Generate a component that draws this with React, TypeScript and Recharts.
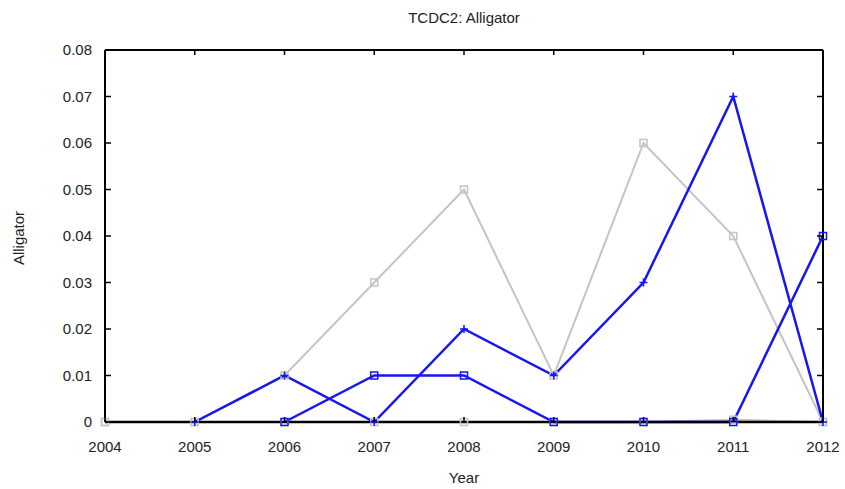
import * as React from 'react';
import { LineChart, Line, XAxis, YAxis, ReferenceLine } from 'recharts';

const years = [2004, 2005, 2006, 2007, 2008, 2009, 2010, 2011, 2012];
const grayUpper = [0, 0, 0.01, 0.03, 0.05, 0.01, 0.06, 0.04, 0];
const grayZero = [0, 0, 0, 0, 0, 0, 0, 0.0005, 0];
const bluePlus = [null, 0, 0.01, 0, 0.02, 0.01, 0.03, 0.07, 0];
const blueSquare = [null, null, 0, 0.01, 0.01, 0, 0, 0, 0.04];
const yTicks = [0, 0.01, 0.02, 0.03, 0.04, 0.05, 0.06, 0.07, 0.08];

const data = years.map((year, i) => ({
  year,
  grayUpper: grayUpper[i],
  grayZero: grayZero[i],
  bluePlus: bluePlus[i],
  blueSquare: blueSquare[i],
}));

const W = 845;
const H = 489;
const PLOT_LEFT = 105;
const PLOT_RIGHT = 823;
const PLOT_TOP = 50;
const PLOT_BOTTOM = 422;
const BLUE = '#1515f5';
const GRAY = '#c4c4c4';
const FONT = '"Liberation Sans", Arial, sans-serif';

const SquareDot = (color: string) => (props: any) => {
  const { cx, cy, index } = props;
  if (cx == null || cy == null || props.value == null) return <g key={index} />;
  return <rect key={index} x={cx - 3.5} y={cy - 3.5} width={7} height={7} fill="none" stroke={color} strokeWidth={1.5} />;
};

const PlusDot = (props: any) => {
  const { cx, cy, index } = props;
  if (cx == null || cy == null || props.value == null) return <g key={index} />;
  return (
    <g key={index}>
      <line x1={cx - 4} x2={cx + 4} y1={cy} y2={cy} stroke={BLUE} strokeWidth={1.5} />
      <line x1={cx} x2={cx} y1={cy - 4} y2={cy + 4} stroke={BLUE} strokeWidth={1.5} />
    </g>
  );
};

const YTick = (props: any) => {
  const { y, payload } = props;
  return (
    <g>
      <text x={92} y={y} dy="0.35em" textAnchor="end" fontSize={15} fill="#222" fontFamily={FONT}>
        {payload.value === 0 ? '0' : payload.value.toFixed(2)}
      </text>
      <line x1={PLOT_LEFT} x2={PLOT_LEFT + 6} y1={y} y2={y} stroke="#000" strokeWidth={1.5} />
      <line x1={PLOT_RIGHT - 6} x2={PLOT_RIGHT} y1={y} y2={y} stroke="#000" strokeWidth={1.5} />
    </g>
  );
};

const XTick = (props: any) => {
  const { x, payload } = props;
  return (
    <g>
      <text x={x} y={447} dy="0.35em" textAnchor="middle" fontSize={15} fill="#222" fontFamily={FONT}>
        {payload.value}
      </text>
      <line x1={x} x2={x} y1={PLOT_TOP} y2={PLOT_TOP + 5} stroke="#000" strokeWidth={1.5} />
      <line x1={x} x2={x} y1={PLOT_BOTTOM - 5} y2={PLOT_BOTTOM} stroke="#000" strokeWidth={1.5} />
    </g>
  );
};

export default function App() {
  return (
    <div style={{ position: 'absolute', left: 0, top: 0, width: W, height: H, background: '#fff', fontFamily: FONT }}>
      <LineChart
        width={W}
        height={H}
        data={data}
        margin={{ top: PLOT_TOP, right: W - PLOT_RIGHT, bottom: 0, left: 0 }}
      >
        <XAxis
          dataKey="year"
          type="number"
          domain={[2004, 2012]}
          ticks={years}
          height={H - PLOT_BOTTOM}
          axisLine={false}
          tickLine={false}
          tick={<XTick />}
        />
        <YAxis
          type="number"
          domain={[0, 0.08]}
          ticks={yTicks}
          width={PLOT_LEFT}
          axisLine={false}
          tickLine={false}
          tick={<YTick />}
        />
        <Line dataKey="grayZero" stroke={GRAY} strokeWidth={2} dot={SquareDot(GRAY)} isAnimationActive={false} />
        <Line dataKey="grayUpper" stroke={GRAY} strokeWidth={2} dot={SquareDot(GRAY)} isAnimationActive={false} />
        <Line dataKey="bluePlus" stroke={BLUE} strokeWidth={2.5} dot={PlusDot} isAnimationActive={false} />
        <Line dataKey="blueSquare" stroke={BLUE} strokeWidth={2.5} dot={SquareDot(BLUE)} isAnimationActive={false} />
        <ReferenceLine y={0} stroke="#000" strokeWidth={2.5} />
        <ReferenceLine y={0.08} stroke="#000" strokeWidth={2} />
        <ReferenceLine x={2004} stroke="#000" strokeWidth={2} />
        <ReferenceLine x={2012} stroke="#000" strokeWidth={2} />
      </LineChart>
      <div style={{ position: 'absolute', left: PLOT_LEFT, width: PLOT_RIGHT - PLOT_LEFT, top: 9, textAlign: 'center', fontSize: 15, color: '#222' }}>
        TCDC2: Alligator
      </div>
      <div style={{ position: 'absolute', left: PLOT_LEFT, width: PLOT_RIGHT - PLOT_LEFT, top: 469, textAlign: 'center', fontSize: 15, color: '#222' }}>
        Year
      </div>
      <div
        style={{
          position: 'absolute',
          left: 18,
          top: 238,
          transform: 'translate(-50%, -50%) rotate(-90deg)',
          fontSize: 15,
          color: '#222',
          whiteSpace: 'nowrap',
        }}
      >
        Alligator
      </div>
    </div>
  );
}
